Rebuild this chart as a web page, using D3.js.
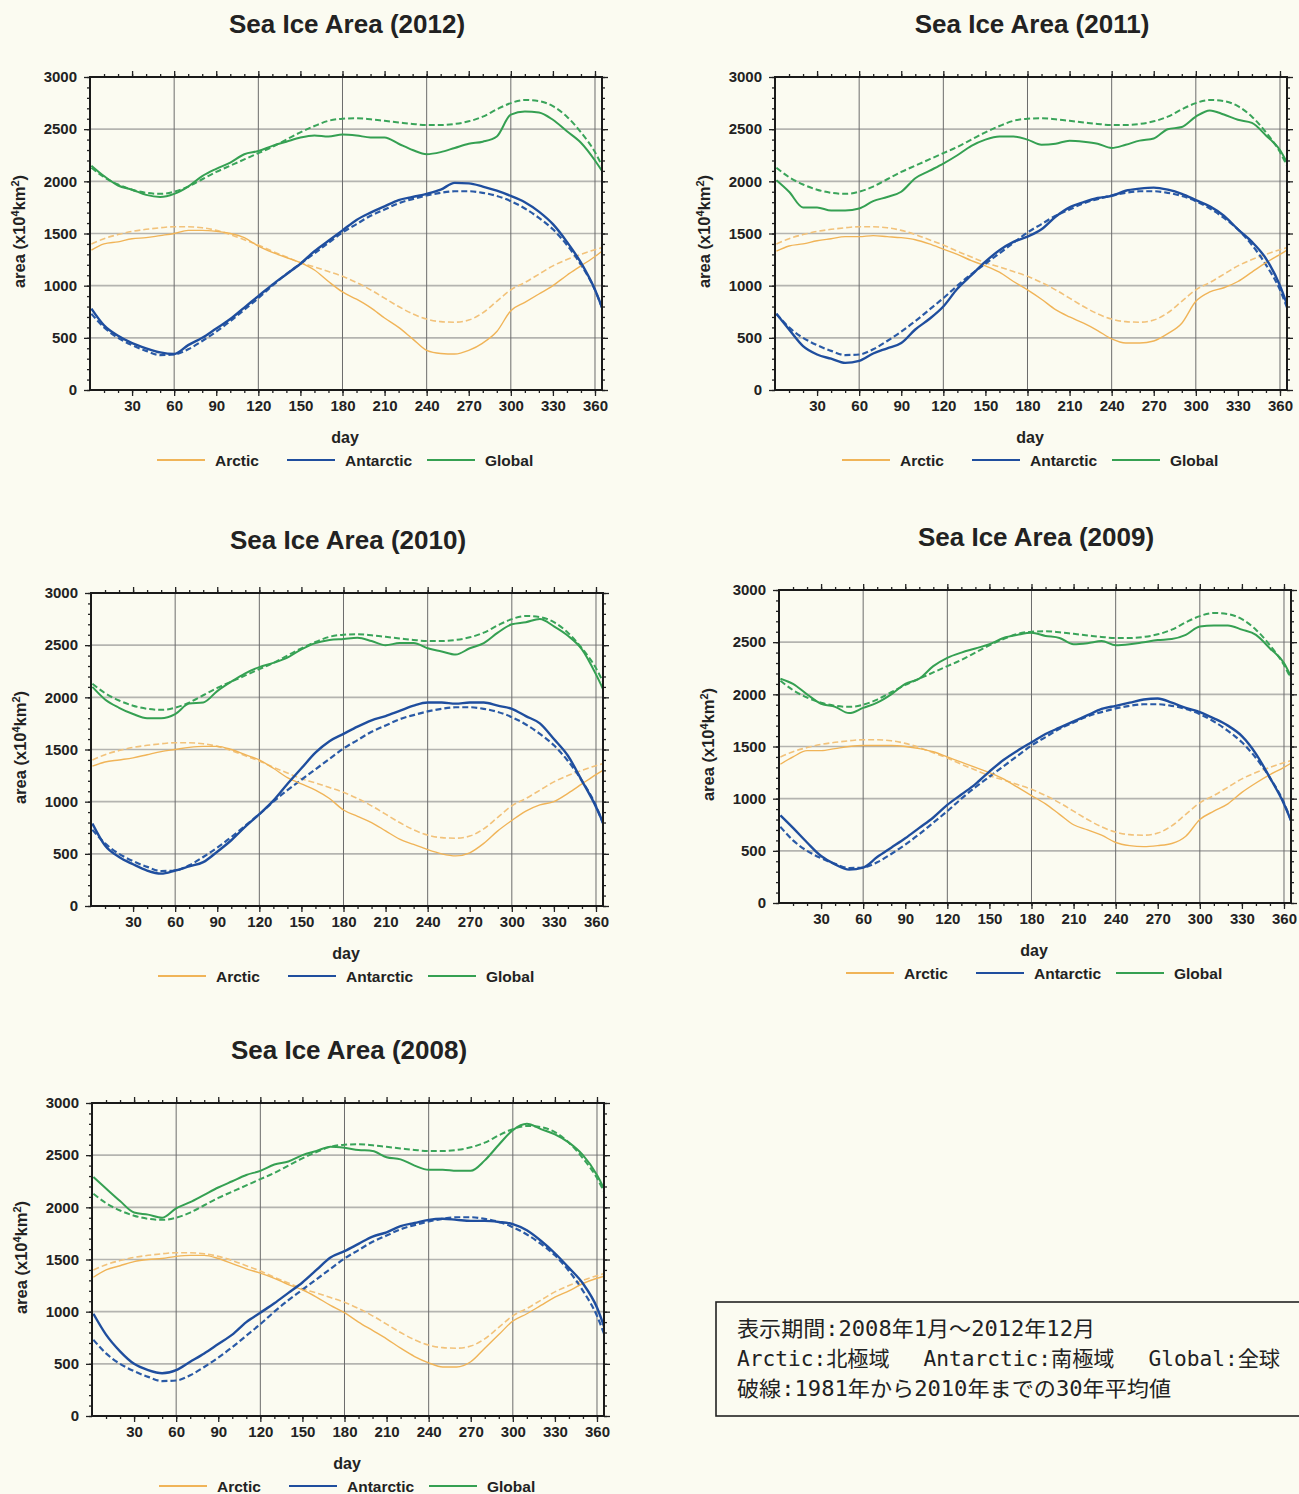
<!DOCTYPE html>
<html>
<head>
<meta charset="utf-8">
<script src="https://cdn.jsdelivr.net/npm/d3@7"></script>
<style>
  body { margin: 0; background: #fbfbf1; }
  svg { display: block; }
  text { font-family: "Liberation Sans", Arial, Helvetica, sans-serif; font-weight: bold; fill: #222; }
</style>
</head>
<body>
<div id="chart"></div>
<script>
// sample days (day of year) shared by every series
const days = [1, 10, 20, 30, 40, 50, 60, 70, 80, 90, 100, 110, 120, 130, 140, 150, 160, 170, 180,
  190, 200, 210, 220, 230, 240, 250, 260, 270, 280, 290, 300, 310, 320, 330, 340, 350, 360, 365];

const xTicks = [30, 60, 90, 120, 150, 180, 210, 240, 270, 300, 330, 360];
const xGrid = [60, 120, 180, 240, 300, 360];
const yTicks = [0, 500, 1000, 1500, 2000, 2500, 3000];
const regions = ["Arctic", "Antarctic", "Global"];
const years = [2012, 2011, 2010, 2009, 2008];

// dashed: 1981-2010 30-year mean (same in every panel)
const climArctic = [1400, 1450, 1490, 1520, 1540, 1555, 1565, 1565, 1555, 1530, 1490, 1440, 1390, 1330, 1275, 1220, 1180, 1135, 1090,
  1030, 960, 880, 800, 730, 680, 655, 650, 670, 740, 850, 960, 1030, 1110, 1190, 1250, 1300, 1345, 1365];
const climAntarctic = [730, 600, 500, 430, 375, 335, 340, 390, 470, 560, 660, 770, 880, 1000, 1110, 1210, 1310, 1410, 1510,
  1590, 1670, 1730, 1790, 1830, 1865, 1890, 1905, 1905, 1890, 1860, 1810, 1740, 1650, 1540, 1390, 1200, 960, 790];
const climGlobal = [2130, 2040, 1970, 1920, 1890, 1880, 1900, 1950, 2020, 2090, 2150, 2210, 2270, 2330, 2400, 2470, 2530, 2580, 2600,
  2605, 2595, 2580, 2565, 2550, 2540, 2540, 2550, 2575, 2620, 2690, 2750, 2780, 2770, 2720, 2620, 2470, 2280, 2150];

const arctic2012 = [1340, 1400, 1420, 1450, 1460, 1480, 1500, 1530, 1530, 1520, 1500, 1460, 1380, 1320, 1270, 1220, 1150, 1040, 940,
  870, 790, 690, 600, 490, 380, 350, 345, 380, 450, 560, 760, 840, 920, 1000, 1100, 1190, 1280, 1330];
const antarctic2012 = [780, 620, 520, 450, 400, 360, 345, 430, 500, 590, 680, 790, 900, 1010, 1110, 1210, 1330, 1430, 1530,
  1630, 1700, 1760, 1820, 1850, 1880, 1920, 1985, 1980, 1950, 1910, 1860, 1800, 1710, 1590, 1420, 1220, 960, 790];
const global2012 = [2150, 2050, 1960, 1920, 1870, 1850, 1880, 1950, 2050, 2120, 2180, 2260, 2290, 2340, 2380, 2420, 2440, 2430, 2450,
  2440, 2420, 2420, 2360, 2300, 2260, 2280, 2320, 2360, 2380, 2430, 2640, 2670, 2660, 2590, 2480, 2370, 2200, 2100];

const arctic2011 = [1330, 1380, 1400, 1430, 1450, 1470, 1470, 1480, 1470, 1460, 1440, 1400, 1350, 1300, 1240, 1190, 1130, 1040, 960,
  870, 770, 700, 640, 570, 490, 450, 450, 470, 540, 640, 850, 940, 980, 1040, 1130, 1220, 1300, 1340];
const antarctic2011 = [730, 580, 420, 340, 300, 260, 280, 350, 400, 450, 580, 680, 800, 970, 1100, 1230, 1340, 1420, 1470,
  1540, 1660, 1750, 1800, 1840, 1860, 1910, 1930, 1940, 1920, 1880, 1820, 1760, 1670, 1540, 1420, 1260, 1000, 820];
const global2011 = [2010, 1900, 1750, 1750, 1720, 1720, 1740, 1810, 1850, 1900, 2030, 2100, 2170, 2250, 2340, 2400, 2430, 2430, 2400,
  2350, 2360, 2390, 2380, 2360, 2320, 2350, 2390, 2410, 2500, 2520, 2620, 2680, 2640, 2590, 2560, 2440, 2300, 2180];

const arctic2010 = [1340, 1380, 1400, 1420, 1450, 1480, 1500, 1520, 1530, 1530, 1500, 1450, 1400, 1320, 1230, 1170, 1110, 1030, 920,
  860, 800, 720, 640, 590, 540, 500, 480, 510, 600, 720, 820, 910, 970, 1000, 1080, 1170, 1260, 1300];
const antarctic2010 = [790, 580, 470, 400, 340, 310, 340, 380, 420, 520, 630, 760, 880, 1010, 1170, 1320, 1470, 1580, 1650,
  1720, 1780, 1820, 1870, 1920, 1950, 1950, 1940, 1950, 1950, 1920, 1890, 1820, 1750, 1600, 1440, 1200, 950, 800];
const global2010 = [2100, 1980, 1900, 1840, 1800, 1800, 1840, 1940, 1950, 2060, 2150, 2230, 2290, 2330, 2380, 2460, 2520, 2550, 2560,
  2570, 2540, 2500, 2520, 2520, 2470, 2440, 2410, 2470, 2520, 2620, 2700, 2720, 2750, 2680, 2590, 2460, 2220, 2080];

const arctic2009 = [1330, 1400, 1460, 1460, 1480, 1500, 1510, 1510, 1510, 1500, 1480, 1450, 1400, 1350, 1300, 1250, 1190, 1110, 1030,
  950, 850, 750, 700, 650, 580, 550, 540, 550, 570, 640, 800, 880, 950, 1060, 1150, 1230, 1300, 1340];
const antarctic2009 = [840, 720, 580, 450, 370, 320, 340, 440, 530, 620, 720, 820, 940, 1040, 1140, 1260, 1370, 1460, 1540,
  1620, 1680, 1740, 1800, 1860, 1890, 1920, 1950, 1960, 1920, 1870, 1830, 1770, 1700, 1600, 1430, 1200, 950, 790];
const global2009 = [2150, 2100, 2000, 1910, 1880, 1820, 1870, 1920, 2000, 2100, 2150, 2270, 2350, 2400, 2440, 2480, 2540, 2570, 2590,
  2560, 2540, 2480, 2490, 2510, 2470, 2480, 2500, 2520, 2530, 2570, 2650, 2660, 2660, 2620, 2570, 2440, 2300, 2170];

const arctic2008 = [1330, 1400, 1440, 1480, 1500, 1510, 1530, 1540, 1540, 1510, 1460, 1410, 1370, 1320, 1260, 1210, 1140, 1060, 990,
  900, 820, 740, 650, 570, 510, 470, 470, 520, 650, 780, 910, 980, 1060, 1140, 1200, 1270, 1320, 1340];
const antarctic2008 = [980, 780, 620, 500, 440, 410, 440, 520, 600, 690, 780, 900, 990, 1080, 1180, 1280, 1400, 1520, 1580,
  1650, 1720, 1760, 1820, 1850, 1880, 1890, 1880, 1870, 1870, 1860, 1840, 1780, 1680, 1560, 1420, 1270, 1040, 860];
const global2008 = [2290, 2180, 2060, 1950, 1930, 1900, 1990, 2050, 2120, 2190, 2250, 2310, 2350, 2410, 2440, 2500, 2540, 2580, 2570,
  2550, 2540, 2480, 2460, 2400, 2360, 2360, 2350, 2350, 2450, 2600, 2740, 2800, 2750, 2700, 2620, 2500, 2310, 2180];

const noteLines = [
  "表示期間:2008年1月～2012年12月",
  "Arctic:北極域　 Antarctic:南極域　 Global:全球",
  "破線:1981年から2010年までの30年平均値",
];

const seriesByYear = {
  2012: [arctic2012, antarctic2012, global2012],
  2011: [arctic2011, antarctic2011, global2011],
  2010: [arctic2010, antarctic2010, global2010],
  2009: [arctic2009, antarctic2009, global2009],
  2008: [arctic2008, antarctic2008, global2008],
};
const climSeries = [climArctic, climAntarctic, climGlobal];

const C = {
  arctic: "#f0b458",
  arcticDash: "#f2c27a",
  antarctic: "#1f4e9e",
  global: "#35a052",
  grid: "#b4b4b0",
  vgrid: "#6c6c6c",
};
const solidColor = [C.arctic, C.antarctic, C.global];
const dashColor = [C.arcticDash, "#2a5aa6", "#3aa45a"];
const solidWidth = [1.4, 2.4, 2.0];
const dashWidth = [1.6, 2.2, 2.0];

// panel plot-area origins
const panels = [
  { year: 2012, x: 90, y: 77 },
  { year: 2011, x: 775, y: 77 },
  { year: 2010, x: 91, y: 593 },
  { year: 2009, x: 779, y: 590 },
  { year: 2008, x: 92, y: 1103 },
];

const W = 1299, H = 1494, pw = 512, ph = 313;

const svg = d3.select("#chart").append("svg")
  .attr("width", W).attr("height", H)
  .style("background", "#fbfbf1");

const x = d3.scaleLinear().domain([0, 365]).range([0, pw]);
const y = d3.scaleLinear().domain([0, 3000]).range([ph, 0]);

const line = d3.line()
  .x((d) => x(d[0]))
  .y((d) => y(d[1]))
  .curve(d3.curveMonotoneX);

const minorX = d3.range(10, 366, 10);
const minorY = d3.range(0, 3001, 100);

panels.forEach((p) => {
  const g = svg.append("g").attr("transform", `translate(${p.x},${p.y})`);

  g.append("text")
    .attr("x", pw / 2 + 1).attr("y", -44)
    .attr("text-anchor", "middle")
    .attr("font-size", "26px")
    .text(`Sea Ice Area (${p.year})`);

  // gridlines
  g.selectAll(".hg").data(yTicks.slice(1, -1)).enter().append("line")
    .attr("x1", 0).attr("x2", pw)
    .attr("y1", (d) => y(d)).attr("y2", (d) => y(d))
    .attr("stroke", C.grid).attr("stroke-width", 1.6);
  g.selectAll(".vg").data(xGrid).enter().append("line")
    .attr("x1", (d) => x(d)).attr("x2", (d) => x(d))
    .attr("y1", 0).attr("y2", ph)
    .attr("stroke", C.vgrid).attr("stroke-width", 1);

  // climatology (dashed) then this year's values
  climSeries.forEach((s, i) => {
    g.append("path")
      .datum(days.map((d, k) => [d, s[k]]))
      .attr("fill", "none")
      .attr("stroke", dashColor[i])
      .attr("stroke-width", dashWidth[i])
      .attr("stroke-dasharray", "6,3")
      .attr("d", line);
  });
  seriesByYear[p.year].forEach((s, i) => {
    g.append("path")
      .datum(days.map((d, k) => [d, s[k]]))
      .attr("fill", "none")
      .attr("stroke", solidColor[i])
      .attr("stroke-width", solidWidth[i])
      .attr("d", line);
  });

  // axes
  const styleAxis = (sel) => {
    sel.select(".domain").remove();
    sel.selectAll("line").attr("stroke", "#222").attr("stroke-width", 1.3);
    sel.selectAll("text").attr("font-size", "15px").attr("fill", "#222")
      .style("font-family", '"Liberation Sans", Arial, sans-serif').style("font-weight", "bold");
  };
  g.append("g").attr("transform", `translate(0,${ph})`)
    .call(d3.axisBottom(x).tickValues(minorX).tickSize(3).tickFormat(""))
    .call(styleAxis);
  g.append("g").attr("transform", `translate(0,${ph})`)
    .call(d3.axisBottom(x).tickValues(xTicks).tickSize(6).tickPadding(4).tickFormat(d3.format("d")))
    .call(styleAxis);
  g.append("g")
    .call(d3.axisTop(x).tickValues(minorX).tickSize(3).tickFormat(""))
    .call(styleAxis);
  g.append("g")
    .call(d3.axisTop(x).tickValues(xTicks).tickSize(6).tickFormat(""))
    .call(styleAxis);
  g.append("g")
    .call(d3.axisLeft(y).tickValues(minorY).tickSize(3).tickFormat(""))
    .call(styleAxis);
  g.append("g")
    .call(d3.axisLeft(y).tickValues(yTicks).tickSize(6).tickPadding(7).tickFormat(d3.format("d")))
    .call(styleAxis);
  g.append("g").attr("transform", `translate(${pw},0)`)
    .call(d3.axisRight(y).tickValues(minorY).tickSize(3).tickFormat(""))
    .call(styleAxis);
  g.append("g").attr("transform", `translate(${pw},0)`)
    .call(d3.axisRight(y).tickValues(yTicks).tickSize(6).tickFormat(""))
    .call(styleAxis);

  g.append("rect")
    .attr("width", pw).attr("height", ph)
    .attr("fill", "none").attr("stroke", "#1a1a1a").attr("stroke-width", 2);

  // axis titles
  g.append("text")
    .attr("x", pw / 2 - 1).attr("y", ph + 53)
    .attr("text-anchor", "middle").attr("font-size", "16px")
    .text("day");

  const yl = g.append("text")
    .attr("transform", `translate(-65,${ph / 2 - 2}) rotate(-90)`)
    .attr("text-anchor", "middle").attr("font-size", "16.5px");
  yl.append("tspan").text("area (x10");
  yl.append("tspan").attr("dy", -6).attr("font-size", "11px").text("4");
  yl.append("tspan").attr("dy", 6).text("km");
  yl.append("tspan").attr("dy", -6).attr("font-size", "11px").text("2");
  yl.append("tspan").attr("dy", 6).text(")");

  // legend
  const lg = g.append("g").attr("transform", `translate(0,${ph + 70})`);
  const legendX = [67, 197, 337];
  regions.forEach((r, i) => {
    lg.append("line")
      .attr("x1", legendX[i]).attr("x2", legendX[i] + 48)
      .attr("y1", 0).attr("y2", 0)
      .attr("stroke", solidColor[i]).attr("stroke-width", 1.8);
    lg.append("text")
      .attr("x", legendX[i] + 58).attr("y", 5.5)
      .attr("font-size", "15.5px")
      .text(r);
  });
});

// note box
const note = svg.append("g").attr("transform", "translate(716,1302)");
note.append("rect")
  .attr("width", 600).attr("height", 114)
  .attr("fill", "none").attr("stroke", "#222").attr("stroke-width", 1.6);
const noteLen = [358, 543, 434];
note.selectAll(".nl").data(noteLines).enter().append("text")
  .attr("x", 21)
  .attr("y", (d, i) => 34 + i * 30)
  .attr("font-size", "21px")
  .attr("textLength", (d, i) => noteLen[i])
  .attr("lengthAdjust", "spacingAndGlyphs")
  .style("font-family", '"DejaVu Sans Mono", "Noto Sans CJK JP", monospace')
  .style("font-weight", "normal")
  .attr("fill", "#222")
  .text((d) => d);
</script>
</body>
</html>
